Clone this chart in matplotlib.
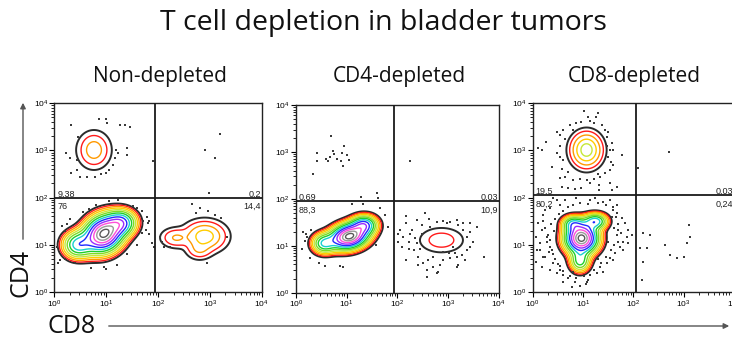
import numpy as np
import matplotlib
matplotlib.use("Agg")
import matplotlib.pyplot as plt
from matplotlib.patches import FancyArrowPatch
from matplotlib.ticker import LogLocator, FuncFormatter, NullFormatter

plt.rcParams["font.family"] = ["Open Sans", "DejaVu Sans"]
plt.rcParams["mathtext.fontset"] = "custom"
plt.rcParams["mathtext.rm"] = "Liberation Sans"
plt.rcParams["mathtext.it"] = "Liberation Sans:italic"
plt.rcParams["mathtext.bf"] = "Liberation Sans:bold"

TITLE = "T cell depletion in bladder tumors"
PANEL_TITLES = ["Non-depleted", "CD4-depleted", "CD8-depleted"]
X_LABEL = "CD8"
Y_LABEL = "CD4"

# Quadrant gates (log10 units) and quadrant frequencies (%)
GATE_X = [1.94, 1.94, 2.06]
GATE_Y = [1.99, 1.95, 2.05]
PCT_UL = [9.38, 0.69, 19.5]
PCT_UR = [0.2, 0.03, 0.03]
PCT_LL = [76, 88.3, 80.2]
PCT_LR = [14.4, 10.9, 0.24]

# Cell populations as Gaussian components in log10 units:
# (mean CD8, mean CD4, sd CD8, sd CD4, correlation, weight)
ND_CD4_POP = [(0.765, 3.01, 0.13, 0.16, 0.0, 1.0)]
ND_DN_POP = [(0.95, 1.23, 0.22, 0.23, 0.15, 1.0),
             (1.30, 1.47, 0.17, 0.16, 0.0, 0.45),
             (0.45, 1.00, 0.17, 0.17, 0.0, 0.40)]
ND_CD8_POP = [(2.90, 1.18, 0.19, 0.15, 0.0, 1.0),
              (2.35, 1.15, 0.14, 0.10, 0.0, 0.35),
              (2.80, 0.90, 0.12, 0.10, 0.0, 0.30)]
C4D_DN_POP = [(1.05, 1.20, 0.22, 0.16, 0.2, 1.0),
              (1.35, 1.45, 0.15, 0.12, 0.0, 0.45),
              (0.55, 1.05, 0.14, 0.13, 0.0, 0.35)]
C4D_CD8_POP = [(2.87, 1.12, 0.16, 0.098, 0.0, 1.0)]
C8D_CD4_POP = [(1.07, 3.01, 0.151, 0.18, 0.0, 1.0)]
C8D_DN_POP = [(0.97, 1.14, 0.19, 0.19, 0.0, 1.0),
              (1.25, 1.50, 0.14, 0.10, 0.0, 0.40),
              (0.80, 1.45, 0.13, 0.10, 0.0, 0.30),
              (0.94, 0.65, 0.12, 0.14, 0.0, 0.30)]

# Number of contour levels shown for each population
ND_LEVELS = [3, 13, 4]
C4D_LEVELS = [13, 2]
C8D_LEVELS = [5, 13]

# Individual events outside the contours (log10 units)
ND_DOT_X = [0.32, 0.86, 1.00, 1.02, 1.27, 1.36, 1.46, 0.46, 0.22, 1.19, 1.22, 1.41,
            1.40, 0.30, 0.44, 1.17, 0.44, 0.33, 0.50, 0.64, 0.78, 0.90, 1.00, 1.05,
            1.13, 1.90,
            3.20, 2.91, 3.09, 2.99,
            0.66, 0.14, 0.08, 0.11, 1.78, 1.80, 1.76, 1.83, 1.88, 1.92, 0.96, 1.00,
            1.51, 1.60, 1.22, 1.72,
            0.20, 0.25, 0.30, 0.55, 0.80, 1.05, 1.70, 1.70, 1.60, 1.40, 1.20, 0.70,
            0.40, 0.20, 0.05, 1.82,
            2.65, 2.81, 2.74, 2.97, 3.10, 3.21, 2.07, 2.12, 2.24, 2.95, 3.34, 2.04]
ND_DOT_Y = [3.55, 3.66, 3.66, 3.58, 3.55, 3.55, 3.50, 3.29, 2.95, 3.00, 2.94, 3.05,
            2.90, 2.83, 2.80, 2.83, 2.59, 2.52, 2.43, 2.43, 2.43, 2.50, 2.52, 2.59,
            2.69, 2.78,
            3.34, 3.01, 2.83, 2.09,
            1.75, 1.40, 0.61, 0.68, 1.60, 1.46, 1.31, 1.23, 1.03, 0.96, 0.54, 0.48,
            1.82, 1.77, 1.96, 1.50,
            1.30, 1.45, 1.55, 1.70, 1.85, 1.92, 1.72, 1.25, 1.00, 0.80, 0.58, 0.50,
            0.62, 0.70, 0.95, 1.50,
            1.87, 1.77, 1.67, 1.72, 1.63, 1.56, 1.07, 0.96, 0.95, 0.61, 1.17, 1.17]

C4D_DOT_X = [0.70, 0.41, 0.72, 0.74, 0.67, 0.90, 1.01, 1.05, 0.80, 0.88, 0.93, 0.59,
             0.64, 0.41, 0.34, 0.95, 1.28, 1.59, 1.62,
             2.25,
             0.14, 0.11, 0.46, 0.57, 0.87, 0.93, 1.66, 1.76, 1.82, 1.58, 1.10, 1.33,
             0.22, 0.28, 0.20, 0.30, 0.17,
             2.18, 2.38, 2.55, 2.63, 2.78, 2.91, 3.04, 3.17, 3.30, 3.43, 3.20, 2.97,
             2.18, 2.05, 2.12, 2.25, 2.35, 2.22, 2.38, 2.45, 2.32, 2.18, 2.41, 2.51,
             2.61, 2.71, 2.78, 2.84, 2.91, 3.04, 3.17, 3.27, 3.37, 3.43, 3.50, 3.37,
             3.43, 3.30, 3.14, 3.01, 2.58, 2.81, 2.58, 2.02, 2.09, 2.28, 2.48, 2.64,
             3.17, 3.20, 3.34, 3.70, 3.57, 2.48, 2.22, 2.02, 2.41, 2.91, 2.71, 3.10]
C4D_DOT_Y = [3.35, 2.97, 3.02, 2.96, 2.90, 2.97, 2.93, 2.83, 2.86, 2.81, 2.70, 2.86,
             2.81, 2.81, 2.54, 3.13, 2.05, 2.12, 2.01,
             2.81,
             1.30, 0.94, 0.63, 0.57, 0.57, 0.55, 1.80, 1.66, 1.41, 1.02, 1.90, 1.90,
             1.19, 0.73, 1.25, 1.33, 1.10,
             1.63, 1.55, 1.70, 1.58, 1.51, 1.53, 1.51, 1.56, 1.49, 1.48, 1.44, 1.48,
             1.48, 1.34, 1.19, 1.26, 1.16, 1.09, 1.05, 0.94, 0.91, 0.70, 0.77, 0.63,
             0.70, 0.55, 0.43, 0.59, 0.70, 0.73, 0.77, 0.80, 0.91, 0.98, 1.09, 1.19,
             1.30, 1.34, 0.84, 0.84, 0.34, 0.45, 0.48, 1.26, 0.98, 1.34, 1.44, 1.41,
             0.55, 0.59, 0.70, 0.77, 1.41, 1.26, 0.94, 1.09, 0.59, 0.87, 0.77, 0.98]

C8D_DOT_X = [1.02, 1.29, 1.26, 0.97, 1.14, 0.87, 0.81, 0.61, 0.48, 0.54, 0.27, 0.11,
             0.18, 0.48, 0.54, 0.38, 0.54, 0.64, 0.81, 0.94, 1.07, 1.21, 1.34, 1.44,
             1.54, 1.60, 1.50, 1.54, 1.57, 1.47, 1.44, 1.37, 1.21, 1.77, 1.31, 1.14,
             0.97, 0.84, 0.71, 0.58, 1.54, 1.31, 1.67, 1.57,
             0.55, 0.60, 0.58, 1.55, 1.60, 1.50, 0.75, 1.10, 0.65, 1.48, 0.70, 1.30,
             2.70, 2.10,
             0.41, 0.64, 0.87, 1.14, 1.40, 1.54, 1.67, 0.54, 0.34, 0.21, 0.11, 0.18,
             0.07, 0.15, 0.08, 0.21, 0.07, 0.18, 0.34, 0.48, 0.61, 0.74, 0.87, 1.01,
             1.14, 0.61, 0.78, 0.94, 1.21, 1.34, 1.47, 1.54, 1.64, 1.74, 1.80, 1.87,
             1.90, 1.84, 1.77, 1.67, 1.60, 1.57, 1.70, 1.80, 1.60, 1.90, 1.98, 0.34,
             0.28, 0.25, 0.41, 0.54, 1.27, 1.07, 0.81, 1.40, 0.48, 1.24, 0.25, 1.70,
             0.25, 0.30, 0.35, 0.28, 0.38, 0.32, 0.40, 0.45, 0.42, 0.36, 0.45, 0.52,
             0.60, 0.70, 0.80, 0.95, 1.10, 1.30, 1.45, 1.60, 1.65, 1.70, 1.62, 1.68,
             1.62, 1.55, 1.45, 1.35, 1.30, 1.10, 0.85, 0.70, 0.55, 0.60, 1.05, 1.50,
             1.75, 0.20, 0.15, 0.50,
             2.20, 2.33, 2.13, 2.27, 2.20, 2.17, 2.73, 2.86, 3.00, 3.06, 3.13, 3.11,
             2.63]
C8D_DOT_Y = [3.84, 3.80, 3.72, 3.61, 3.63, 3.58, 3.43, 3.43, 3.40, 3.33, 3.19, 3.05,
             3.00, 2.94, 2.87, 2.66, 2.41, 2.43, 2.37, 2.39, 2.37, 2.39, 2.44, 2.52,
             2.59, 2.69, 2.87, 3.01, 3.15, 3.29, 3.43, 3.54, 3.58, 2.90, 2.27, 2.30,
             2.20, 2.18, 2.20, 2.22, 2.30, 2.16, 2.23, 2.16,
             3.10, 2.80, 2.60, 2.75, 3.00, 3.40, 3.55, 3.70, 3.25, 3.10, 2.55, 2.50,
             2.97, 2.62,
             1.99, 1.95, 1.99, 1.95, 1.91, 1.95, 1.84, 1.84, 1.77, 1.63, 1.46, 1.31,
             1.17, 1.03, 0.89, 0.75, 0.64, 0.54, 0.47, 0.40, 0.36, 0.33, 0.29, 0.33,
             0.36, 0.22, 0.11, 0.13, 0.47, 0.54, 0.61, 0.71, 0.82, 0.96, 1.07, 1.17,
             1.31, 1.46, 1.56, 1.67, 1.74, 1.60, 1.31, 0.89, 0.68, 1.03, 1.21, 0.96,
             1.17, 0.75, 0.61, 0.47, 0.40, 0.22, 0.43, 0.43, 1.95, 2.00, 1.74, 1.07,
             1.35, 1.20, 1.10, 1.05, 0.90, 0.85, 0.80, 0.70, 1.30, 1.45, 1.55, 1.65,
             1.72, 1.80, 1.85, 1.88, 1.86, 1.88, 1.85, 1.80, 1.60, 1.45, 1.35, 1.20,
             1.00, 0.90, 0.75, 0.62, 0.70, 0.25, 0.22, 0.30, 0.55, 0.45, 0.18, 1.05,
             1.25, 1.50, 0.90, 0.60,
             1.24, 1.21, 0.93, 0.93, 0.64, 0.25, 0.78, 0.71, 0.75, 1.03, 1.17, 1.42,
             1.00]

CONTOUR_COLORS = ["#2b2b2b", "#ff1a1a", "#ff9900", "#ffcc00", "#c6e838",
                  "#7fdc22", "#1fcf2a", "#19d0d0", "#1f2bff", "#9a2cff",
                  "#ff4fd8", "#9a9a9a", "#5a5a5a"]
OUTER_LEVEL = 0.03
LEVEL_EXP = 0.8

PANELS = [
    dict(pops=[ND_CD4_POP, ND_DN_POP, ND_CD8_POP], levels=ND_LEVELS,
         dots=(ND_DOT_X, ND_DOT_Y)),
    dict(pops=[C4D_DN_POP, C4D_CD8_POP], levels=C4D_LEVELS,
         dots=(C4D_DOT_X, C4D_DOT_Y)),
    dict(pops=[C8D_CD4_POP, C8D_DN_POP], levels=C8D_LEVELS,
         dots=(C8D_DOT_X, C8D_DOT_Y)),
]

# axes rectangles in figure fractions
AX_RECTS = [(0.0742, 0.1412, 0.2833, 0.555),
            (0.4044, 0.1391, 0.2769, 0.552),
            (0.7277, 0.1412, 0.2750, 0.555)]
TITLE_X = [160, 399, 634]

W, H = 732, 340
fig = plt.figure(figsize=(W / 100, H / 100), dpi=100)

grid = np.linspace(0, 4, 481)
GX, GY = np.meshgrid(grid, grid)


def density(components):
    z = np.zeros_like(GX)
    for mx, my, sx, sy, rho, w in components:
        dx = (GX - mx) / sx
        dy = (GY - my) / sy
        q = (dx * dx - 2 * rho * dx * dy + dy * dy) / (1 - rho * rho)
        z += w * np.exp(-0.5 * q)
    return z / z.max()


def contour_levels(n):
    r_out = np.sqrt(-2 * np.log(OUTER_LEVEL))
    return [float(np.exp(-0.5 * (r_out * (1 - k / n) ** LEVEL_EXP) ** 2))
            for k in range(n)]


def decade_label(v, pos):
    return r"$\mathrm{10^{%d}}$" % int(round(np.log10(v)))


def fmt_upper(v):
    return f"{v:g}"


def fmt_lower(v):
    return f"{v:g}".replace(".", ",")


for i, (panel, rect) in enumerate(zip(PANELS, AX_RECTS)):
    ax = fig.add_axes(rect)
    ax.set_xscale("log")
    ax.set_yscale("log")
    ax.set_xlim(1, 1e4)
    ax.set_ylim(1, 1e4)

    for comps, n in zip(panel["pops"], panel["levels"]):
        z = density(comps)
        lv = contour_levels(n)
        ax.contour(10 ** GX, 10 ** GY, z, levels=lv, colors=CONTOUR_COLORS[:n],
                   linewidths=[1.4] + [1.0] * (n - 1))

    dx, dy = panel["dots"]
    ax.scatter(10 ** np.array(dx), 10 ** np.array(dy), s=1.3, marker="s",
               color="#3a3a3a", linewidths=0, zorder=3)

    gx, gy = GATE_X[i], GATE_Y[i]
    ax.axvline(10 ** gx, color="#1a1a1a", lw=1.3, zorder=4)
    ax.axhline(10 ** gy, color="#1a1a1a", lw=1.3, zorder=4)

    tkw = dict(xycoords=("axes fraction", "data"), textcoords="offset points",
               fontsize=6.5, family="Liberation Sans", color="#222222", zorder=5)
    ax.annotate(fmt_upper(PCT_UL[i]), xy=(0.015, 10 ** gy), xytext=(0, 0.8),
                ha="left", va="baseline", **tkw)
    ax.annotate(fmt_upper(PCT_UR[i]), xy=(0.995, 10 ** gy), xytext=(0, 0.8),
                ha="right", va="baseline", **tkw)
    ax.annotate(fmt_lower(PCT_LL[i]), xy=(0.015, 10 ** gy), xytext=(0, -3),
                ha="left", va="top", **tkw)
    ax.annotate(fmt_lower(PCT_LR[i]), xy=(0.995, 10 ** gy), xytext=(0, -3),
                ha="right", va="top", **tkw)

    for axis in (ax.xaxis, ax.yaxis):
        axis.set_major_locator(LogLocator(base=10, numticks=10))
        axis.set_minor_locator(LogLocator(base=10, subs=np.arange(2, 10), numticks=10))
        axis.set_major_formatter(FuncFormatter(decade_label))
        axis.set_minor_formatter(NullFormatter())
    ax.tick_params(which="major", direction="out", length=3.5, width=0.8,
                   labelsize=6, pad=1)
    ax.tick_params(which="minor", direction="out", length=2.2, width=0.6)
    for s in ax.spines.values():
        s.set_linewidth(1.0)
        s.set_color("#222222")

    fig.text(TITLE_X[i] / W, 1 - 82 / H, PANEL_TITLES[i], ha="center",
             va="baseline", fontsize=15, color="#111111")

fig.text(383 / W, 1 - 30 / H, TITLE, ha="center", va="baseline", fontsize=20.5,
         color="#111111")

fig.text(21 / W, 1 - 273 / H, Y_LABEL, rotation=90, ha="center", va="center",
         fontsize=18, color="#111111")
fig.text(72 / W, 1 - 333 / H, X_LABEL, ha="center", va="baseline",
         fontsize=18, color="#111111")

fig.add_artist(FancyArrowPatch((23 / W, 1 - 242 / H), (23 / W, 1 - 100 / H),
                               transform=fig.transFigure, arrowstyle="-|>",
                               mutation_scale=8, lw=1.0, color="#555555"))
fig.add_artist(FancyArrowPatch((106 / W, 1 - 326 / H), (732 / W, 1 - 326 / H),
                               transform=fig.transFigure, arrowstyle="-|>",
                               mutation_scale=8, lw=1.0, color="#555555"))

fig.savefig("out.png", dpi=100, facecolor="white")
